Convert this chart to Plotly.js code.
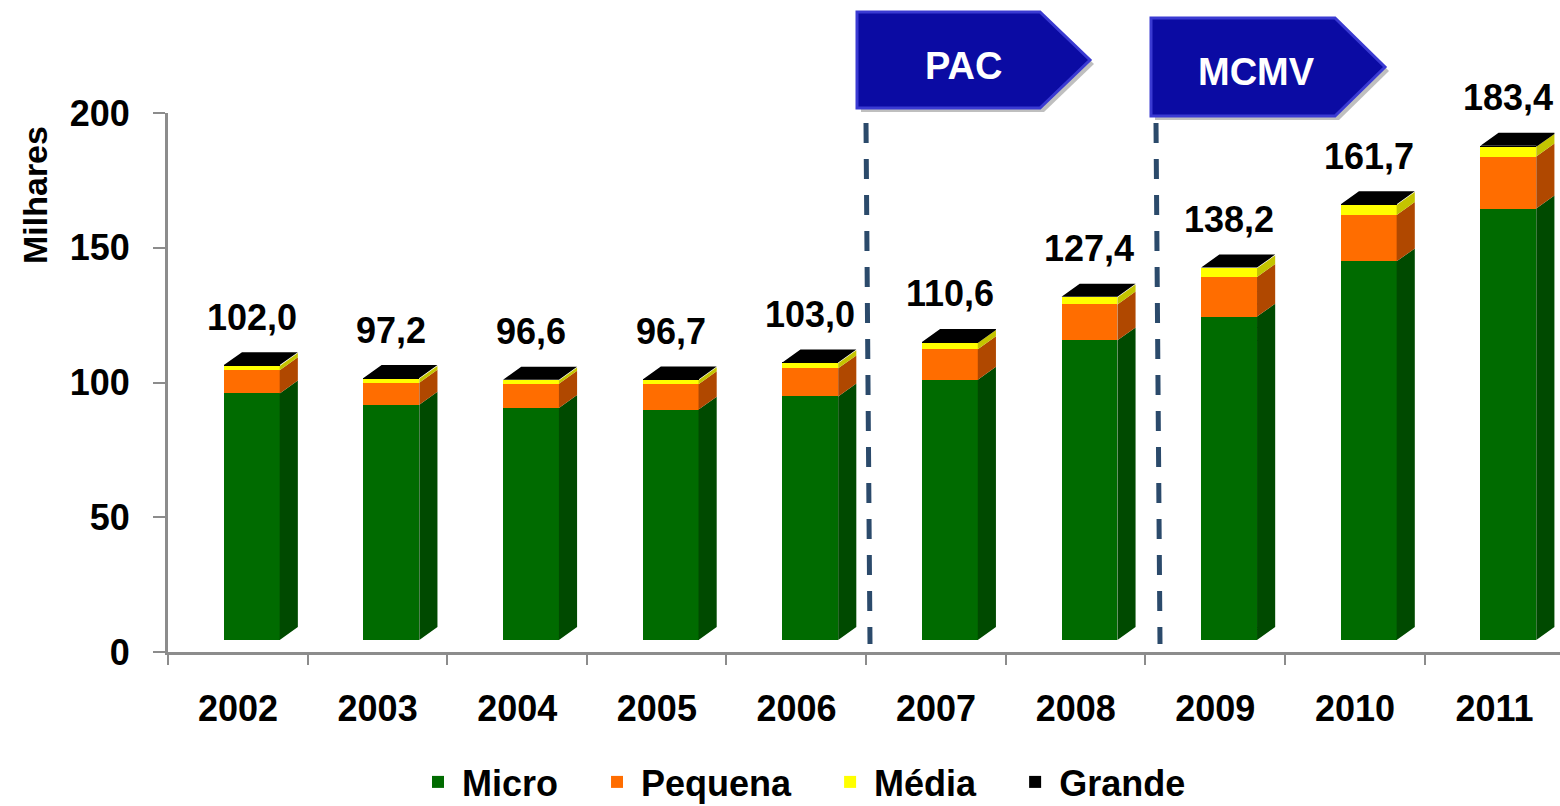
<!DOCTYPE html>
<html>
<head>
<meta charset="utf-8">
<script src="https://cdn.plot.ly/plotly-3.0.1.min.js"></script>
<style>
  html, body { margin: 0; padding: 0; background: #fff; }
  #chart { width: 1560px; height: 806px; }
</style>
</head>
<body>
<div id="chart"></div>
<script>
// values in thousands (Milhares)
var years   = ['2002', '2003', '2004', '2005', '2006', '2007', '2008', '2009', '2010', '2011'];
var micro   = [91.5, 87.3, 86.1, 85.5, 90.4, 96.6, 111.2, 120.0, 140.5, 160.1];
var pequena = [8.6, 8.2, 9.0, 9.4, 10.4, 11.3, 13.3, 14.7, 17.2, 19.3];
var media   = [1.6, 1.4, 1.2, 1.5, 1.9, 2.3, 2.6, 3.2, 3.7, 3.6];
var grande  = [0.3, 0.3, 0.3, 0.3, 0.3, 0.4, 0.3, 0.3, 0.3, 0.4];
var totals  = [102.0, 97.2, 96.6, 96.7, 103.0, 110.6, 127.4, 138.2, 161.7, 183.4];

var FONT = 'Liberation Sans';
var GRAY = '#8c8c8c';
var PAD = '\u00a0\u00a0\u00a0';   // extra room between legend entries

// plot area in pixels (for the decorations only)
var L = 168, T = 113, B = 652, W = 1392;
function px(x) { return (x - L) / W; }
function py(y) { return (B - y) / (B - T); }

var series = [
  { name: 'Micro',   vals: micro,   front: '#006b00', side: '#004a00' },
  { name: 'Pequena', vals: pequena, front: '#ff6d00', side: '#b04800' },
  { name: 'Média',   vals: media,   front: '#ffff00', side: '#c4c400' },
  { name: 'Grande',  vals: grande,  front: '#000000', side: '#000000' }
];

var idx = years.map(function (d, i) { return i; });
var barOffset = -0.1, barWidth = 0.4;   // front face
var depthX = 0.13, depthY = 4.8;         // 3d depth in axis units

var data = [];

// keeps the visible value axis alive (nothing drawn)
data.push({
  type: 'scatter', x: idx, y: totals, yaxis: 'y', mode: 'markers',
  marker: { opacity: 0 }, showlegend: false, hoverinfo: 'skip'
});

// side faces of each segment + top face, built from the stacked values
series.forEach(function (s, j) {
  var xs = [], ys = [];
  idx.forEach(function (i) {
    var b = 0;
    for (var k = 0; k < j; k++) b += series[k].vals[i];
    var t = b + s.vals[i];
    var xr = i + barOffset + barWidth;
    xs.push(xr, xr + depthX, xr + depthX, xr, xr, null);
    ys.push(b, b + depthY, t + depthY, t, b, null);
    if (j === series.length - 1) {
      var xl = i + barOffset;
      xs.push(xl, xl + depthX, xr + depthX, xr, xl, null);
      ys.push(t, t + depthY, t + depthY, t, t, null);
    }
  });
  data.push({
    type: 'scatter', x: xs, y: ys, yaxis: 'y2', mode: 'lines',
    fill: 'toself', fillcolor: s.side, line: { width: 0, color: s.side },
    showlegend: false, hoverinfo: 'skip'
  });
});

// front faces
series.forEach(function (s, j) {
  data.push({
    type: 'bar', name: s.name + (j < series.length - 1 ? PAD : ''),
    x: idx, y: s.vals, yaxis: 'y2',
    offset: barOffset, width: barWidth,
    marker: { color: s.front, line: { width: 0 } }
  });
});

var annotations = idx.map(function (i) {
  return {
    x: i + barOffset + barWidth / 2, y: totals[i], xref: 'x', yref: 'y2',
    yshift: 48, showarrow: false, xanchor: 'center', yanchor: 'middle',
    text: totals[i].toFixed(1).replace('.', ','),
    font: { family: FONT, size: 36, color: '#000', weight: 'bold' }
  };
});

annotations.push({
  xref: 'paper', yref: 'paper', x: px(35), y: py(195), textangle: -90,
  xanchor: 'center', yanchor: 'middle',
  showarrow: false, text: 'Milhares',
  font: { family: FONT, size: 34, color: '#000', weight: 'bold' }
});
annotations.push({
  xref: 'paper', yref: 'paper', x: px(963), y: py(66), showarrow: false,
  xanchor: 'center', yanchor: 'middle',
  text: 'PAC', font: { family: FONT, size: 38, color: '#fff', weight: 'bold' }
});
annotations.push({
  xref: 'paper', yref: 'paper', x: px(1256), y: py(72), showarrow: false,
  xanchor: 'center', yanchor: 'middle',
  text: 'MCMV', font: { family: FONT, size: 38, color: '#fff', weight: 'bold' }
});

function arrowPath(x0, x1, xt, y0, y1) {
  var ym = (y0 + y1) / 2;
  return 'M' + px(x0) + ',' + py(y0) + ' L' + px(x1) + ',' + py(y0) +
         ' L' + px(xt) + ',' + py(ym) + ' L' + px(x1) + ',' + py(y1) +
         ' L' + px(x0) + ',' + py(y1) + ' Z';
}

var shapes = [
  { type: 'path', xref: 'paper', yref: 'paper', path: arrowPath(861, 1044, 1094, 16, 112),
    fillcolor: 'rgba(0,0,0,0.25)', line: { width: 0 } },
  { type: 'path', xref: 'paper', yref: 'paper', path: arrowPath(857, 1040, 1090, 12, 108),
    fillcolor: '#0b0ba3', line: { color: '#3a3ad2', width: 3 } },
  { type: 'path', xref: 'paper', yref: 'paper', path: arrowPath(1155, 1339, 1389, 22, 120),
    fillcolor: 'rgba(0,0,0,0.25)', line: { width: 0 } },
  { type: 'path', xref: 'paper', yref: 'paper', path: arrowPath(1151, 1335, 1385, 18, 116),
    fillcolor: '#0b0ba3', line: { color: '#3a3ad2', width: 3 } },
  { type: 'line', xref: 'paper', yref: 'paper', x0: px(866), x1: px(870), y0: py(123), y1: py(644),
    line: { color: '#2b4a6b', width: 5, dash: '20px,16px' } },
  { type: 'line', xref: 'paper', yref: 'paper', x0: px(1156), x1: px(1160), y0: py(123), y1: py(644),
    line: { color: '#2b4a6b', width: 5, dash: '20px,16px' } }
];

var layout = {
  width: 1560, height: 806,
  margin: { l: L, r: 0, t: T, b: 806 - B, pad: 0, autoexpand: false },
  paper_bgcolor: '#fff', plot_bgcolor: '#fff',
  font: { family: FONT, color: '#000', weight: 'bold' },
  barmode: 'stack',
  showlegend: true,
  legend: {
    orientation: 'h', x: px(414), xanchor: 'left', y: py(782), yanchor: 'middle',
    itemwidth: 38,
    font: { family: FONT, size: 36, color: '#000', weight: 'bold' },
    traceorder: 'normal'
  },
  xaxis: {
    range: [-0.5, 9.47],
    tickvals: idx.map(function (i) { return i - 0.5; }),
    ticktext: years,
    ticklabelshift: 70,
    ticks: 'outside', ticklen: 10, tickwidth: 2, tickcolor: GRAY,
    ticklabelstandoff: 13,
    showline: true, linecolor: GRAY, linewidth: 3,
    showgrid: false, zeroline: false, fixedrange: true,
    tickfont: { family: FONT, size: 36, color: '#000', weight: 'bold' }
  },
  yaxis: {
    type: 'linear',
    range: [0, 200],
    tickvals: [0, 50, 100, 150, 200],
    ticks: 'outside', ticklen: 12, tickwidth: 2, tickcolor: GRAY,
    ticklabelstandoff: 16,
    showline: true, linecolor: GRAY, linewidth: 3,
    showgrid: false, zeroline: false, fixedrange: true,
    tickfont: { family: FONT, size: 36, color: '#000', weight: 'bold' }
  },
  yaxis2: {
    type: 'linear',
    overlaying: 'y', range: [-4.45, 195.55], visible: false, fixedrange: true
  },
  annotations: annotations,
  shapes: shapes
};

Plotly.newPlot('chart', data, layout, { displayModeBar: false, staticPlot: true });
</script>
</body>
</html>
